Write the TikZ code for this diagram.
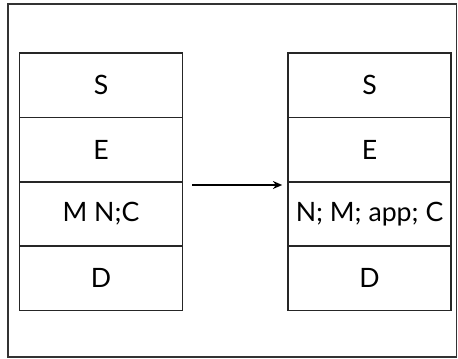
\documentclass[tikz,border=0pt]{standalone}
\usepackage{fontspec}
\setmainfont{Lato}
\usetikzlibrary{arrows.meta}
\tikzset{
  cell/.style={draw=black!85,line width=1.1pt,minimum width=122.3pt,minimum height=48.4pt,inner sep=0pt,font=\fontsize{20}{24}\selectfont},
}
\begin{document}
\begin{tikzpicture}[x=0.75pt,y=0.75pt,yscale=-1,xscale=1]
            \useasboundingbox (0,0) rectangle (458,358);
            \draw[black!80,line width=1.1pt] (8,4) rectangle (456.5,357);
            \node[cell] (ls) at (101,85.25) {S};
            \node[cell] (le) at (101,149.75) {E};
            \node[cell] (lm) at (101,214) {M N;C};
            \node[cell] (ld) at (101,278.25) {D};
            \node[cell] (rs) at (369.5,85.25) {S};
            \node[cell] (re) at (369.5,149.75) {E};
            \node[cell] (rm) at (369.5,214) {N; M; app; C};
            \node[cell] (rd) at (369.5,278.25) {D};
            \draw[-{Stealth[length=7pt,width=6pt]},line width=1.1pt] ([shift={(9,4)}]lm.north east) -- ([shift={(-5,4)}]rm.north west);
        \end{tikzpicture}
\end{document}
